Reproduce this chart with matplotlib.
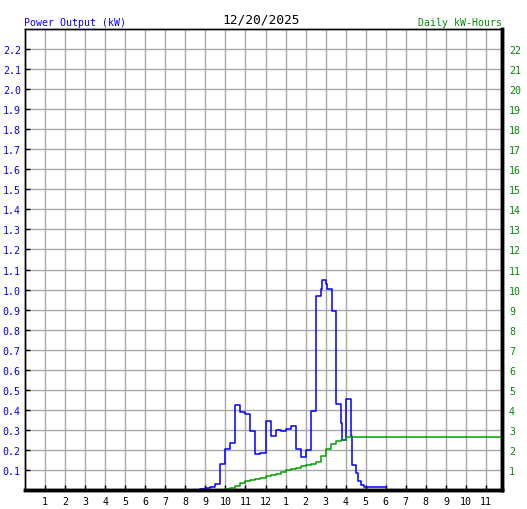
import matplotlib
matplotlib.use("Agg")
from matplotlib import pyplot as plt

# power samples, hour of day where each step starts, kW
power_hours = [8.75, 9.0, 9.25, 9.5, 9.75, 10.0, 10.25, 10.5, 10.75, 11.0,
               11.25, 11.5, 11.75, 12.0, 12.25, 12.5, 12.75, 13.0, 13.25, 13.5,
               13.75, 14.0, 14.25, 14.5, 14.75, 14.8, 15.0, 15.05, 15.3, 15.5,
               15.75, 15.8, 16.0, 16.25, 16.3, 16.5, 16.6, 16.75, 16.9, 18.0]
power_kw = [0.003, 0.008, 0.015, 0.028, 0.128, 0.207, 0.233, 0.425, 0.388, 0.377,
            0.293, 0.178, 0.187, 0.343, 0.268, 0.298, 0.293, 0.303, 0.317, 0.203,
            0.163, 0.202, 0.392, 0.968, 1.005, 1.048, 1.027, 1.003, 0.895, 0.430,
            0.333, 0.247, 0.453, 0.267, 0.127, 0.083, 0.043, 0.027, 0.015, 0.015]

# cumulative energy for the day, kWh
energy_hours = [8.75, 10.0, 10.25, 10.5, 10.75, 11.0, 11.25, 11.5, 11.75, 12.0,
                12.25, 12.5, 12.75, 13.0, 13.25, 13.5, 13.75, 14.0, 14.25, 14.5,
                14.75, 15.0, 15.25, 15.5, 15.75, 16.0, 23.8]
energy_kwh = [0.0, 0.04, 0.12, 0.22, 0.34, 0.45, 0.51, 0.56, 0.62, 0.68,
              0.75, 0.82, 0.90, 0.98, 1.05, 1.12, 1.18, 1.25, 1.31, 1.38,
              1.72, 2.05, 2.30, 2.42, 2.50, 2.65, 2.65]

hour_labels = ['1', '2', '3', '4', '5', '6', '7', '8', '9', '10', '11', '12',
               '1', '2', '3', '4', '5', '6', '7', '8', '9', '10', '11']
kw_ticks = [round(0.1 * i, 1) for i in range(1, 23)]
kwh_ticks = list(range(1, 23))

blue = '#0000ff'
green = '#008c00'
mono = 'DejaVu Sans Mono'

fig = plt.figure(figsize=(5.27, 5.10), dpi=100)
ax = fig.add_axes([25 / 527, 19 / 510, 477 / 527, 461 / 510])
ax.set_xlim(0, 23.8)
ax.set_ylim(0, 2.3)

ax.set_xticks(range(1, 24))
ax.set_xticklabels(hour_labels, family=mono, fontsize=7.2)
ax.set_yticks(kw_ticks)
ax.set_yticklabels(['%.1f' % v for v in kw_ticks], family=mono, fontsize=7.2, color=blue)
ax.grid(True, color='#a8a8a8', linewidth=1.0)
ax.set_axisbelow(True)
ax.tick_params(axis='x', direction='in', length=3.5, width=1, color='black', pad=4)
ax.tick_params(axis='y', direction='in', length=3.5, width=1, color='black', pad=3)

ax.plot(power_hours, power_kw, drawstyle='steps-post', color=blue, linewidth=1.1, zorder=3)

ax2 = ax.twinx()
ax2.set_ylim(0, 23)
ax2.set_yticks(kwh_ticks)
ax2.set_yticklabels([str(v) for v in kwh_ticks], family=mono, fontsize=7.2, color=green)
ax2.tick_params(axis='y', length=0, pad=5)
ax2.plot(energy_hours, energy_kwh, drawstyle='steps-post', color='#00a000', linewidth=1.1)

for a in (ax, ax2):
    a.spines['left'].set_linewidth(1.0)
    a.spines['top'].set_linewidth(1.0)
    a.spines['right'].set_linewidth(2.5)
    a.spines['bottom'].set_linewidth(2.5)

fig.text(24 / 527, 1 - 23 / 510, 'Power Output (kW)', family=mono, fontsize=7.1,
         color=blue, ha='left', va='center')
fig.text(502 / 527, 1 - 23 / 510, 'Daily kW-Hours', family=mono, fontsize=7.1,
         color=green, ha='right', va='center')
fig.text(261 / 527, 1 - 20 / 510, '12/20/2025', family=mono, fontsize=9.3,
         color='black', ha='center', va='center')

fig.savefig('out.png', dpi=100, facecolor='white')
